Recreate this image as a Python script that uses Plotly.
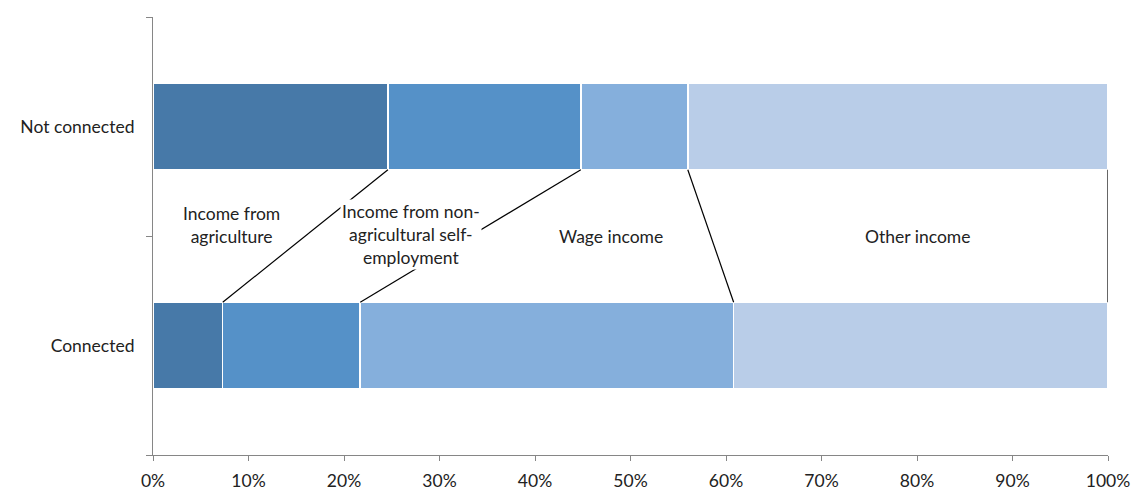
import plotly.graph_objects as go

categories = ["Connected", "Not connected"]
series_names = ["Income from agriculture",
                "Income from non-agricultural self-employment",
                "Wage income", "Other income"]
agri = [7.3, 24.6]
nonagri = [14.4, 20.2]
wage = [39.1, 11.2]
other = [39.2, 44.0]
x_ticks = [0, 10, 20, 30, 40, 50, 60, 70, 80, 90, 100]
x_tick_labels = [f"{v}%" for v in x_ticks]

colors = ["#4779a8", "#5591c8", "#85afdc", "#b9cde8"]
FONT = "Lato, Open Sans, sans-serif"
FS = 17.5

fig = go.Figure()
for name, vals, col in zip(series_names, [agri, nonagri, wage, other], colors):
    fig.add_trace(go.Bar(
        y=categories, x=vals, name=name, orientation="h",
        marker=dict(color=col, line=dict(color="white", width=1.5)),
        hoverinfo="x+y",
    ))

BARGAP = 0.605
half = (1 - BARGAP) / 2
cum_c, cum_n = 0, 0
shapes = []
for vals in [agri, nonagri, wage, other]:
    cum_c += vals[0]
    cum_n += vals[1]
    shapes.append(dict(type="line", xref="x", yref="y",
                       x0=cum_c, y0=0 + half, x1=cum_n, y1=1 - half,
                       line=dict(color="black", width=1.2), layer="above"))

annos = [
    dict(x=8.2, yshift=11, text="Income from<br>agriculture"),
    dict(x=27, yshift=2, text="Income from non-<br>agricultural self-<br>employment"),
    dict(x=48, yshift=0, text="Wage income"),
    dict(x=80, yshift=0, text="Other income"),
]
annotations = []
for a in annos:
    annotations.append(dict(x=a["x"], y=0.5, yshift=a["yshift"], xref="x", yref="y",
                            text=a["text"], showarrow=False, bgcolor="white",
                            font=dict(family=FONT, size=FS, color="#222"),
                            align="center"))

fig.update_layout(
    barmode="stack", bargap=BARGAP,
    width=1135, height=490,
    margin=dict(l=153, r=27, t=17, b=35, autoexpand=False),
    paper_bgcolor="white", plot_bgcolor="white",
    showlegend=False,
    shapes=shapes, annotations=annotations,
    font=dict(family=FONT, size=FS, color="#222"),
)
fig.update_xaxes(range=[0, 100], tickvals=x_ticks, ticktext=x_tick_labels,
                 automargin=False, ticklabelstandoff=5,
                 showgrid=False, zeroline=False, showline=True,
                 linecolor="#868686", linewidth=1, ticks="outside",
                 ticklen=5, tickcolor="#868686",
                 tickfont=dict(family=FONT, size=FS, color="#222"))
fig.update_yaxes(type="category", categoryorder="array", categoryarray=categories,
                 range=[-0.5, 1.5], tickson="boundaries", automargin=False,
                 ticklabelstandoff=14,
                 showgrid=False, zeroline=False, showline=True,
                 linecolor="#868686", linewidth=1, ticks="outside",
                 ticklen=6, tickcolor="#868686",
                 tickfont=dict(family=FONT, size=FS, color="#222"))

fig.write_html("out.html", config={"displayModeBar": False},
               post_script="document.body.style.margin='0';document.body.style.overflow='hidden';")
